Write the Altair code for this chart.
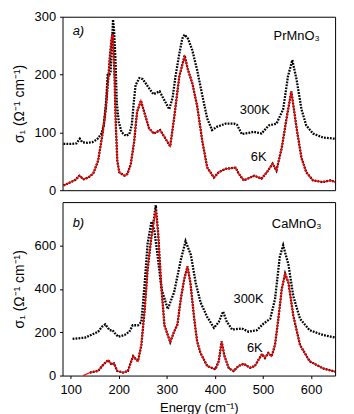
import altair as alt
import pandas as pd

# ---------- PrMnO3 (panel a) ----------
pr300_E = [85, 100, 112, 119, 124, 135, 145, 155, 164, 169, 174, 177, 180, 183, 186, 188, 190, 193, 196, 200, 206, 215, 222, 227, 231, 235, 243, 250, 260, 272, 285, 292, 305, 312, 318, 326, 332, 337, 344, 353, 363, 374, 384, 394, 405, 422, 440, 446, 456, 470, 480, 497, 512, 528, 542, 552, 561, 570, 580, 590, 604, 625, 650]
pr300_S = [80, 80, 81, 89, 83, 82, 83, 88, 98, 113, 157, 202, 198, 205, 250, 295, 280, 230, 150, 118, 100, 94, 97, 112, 150, 182, 194, 192, 180, 166, 171, 160, 140, 160, 197, 236, 262, 269, 262, 242, 208, 163, 124, 104, 110, 115, 115, 113, 97, 99, 101, 98, 112, 115, 140, 197, 225, 191, 140, 112, 98, 91, 89]

pr6_E = [85, 100, 110, 118, 127, 137, 147, 157, 166, 173, 178, 182, 185, 188, 191, 194, 197, 201, 212, 218, 225, 232, 238, 246, 253, 263, 273, 286, 292, 307, 315, 326, 337, 344, 353, 363, 374, 384, 398, 408, 422, 443, 450, 460, 482, 497, 508, 520, 528, 539, 549, 559, 570, 580, 590, 604, 624, 641, 650]
pr6_S = [8, 14, 18, 25, 19, 22, 29, 51, 96, 140, 191, 236, 262, 273, 200, 110, 51, 31, 25, 28, 45, 84, 135, 155, 135, 107, 98, 104, 96, 76, 124, 197, 233, 208, 185, 146, 84, 39, 22, 31, 37, 39, 28, 17, 25, 20, 31, 46, 34, 73, 124, 171, 107, 56, 31, 17, 14, 17, 14]

prfit_E = pr6_E
prfit_S = [8, 14, 18, 25, 19, 22, 29, 51, 96, 140, 191, 236, 262, 270, 200, 110, 51, 31, 25, 28, 45, 84, 135, 155, 135, 107, 98, 104, 96, 76, 124, 197, 231, 208, 185, 146, 84, 39, 22, 31, 37, 39, 28, 17, 25, 20, 31, 46, 34, 73, 124, 171, 107, 56, 31, 17, 14, 17, 14]

# ---------- CaMnO3 (panel b) ----------
ca300_E = [104, 130, 157, 165, 172, 181, 187, 192, 199, 212, 222, 229, 240, 247, 254, 260, 268, 274, 281, 289, 302, 315, 329, 339, 350, 360, 370, 384, 398, 408, 417, 425, 436, 456, 470, 487, 501, 515, 525, 535, 542, 553, 563, 577, 597, 625, 650]
ca300_S = [169, 175, 202, 225, 236, 209, 209, 195, 179, 187, 202, 232, 232, 247, 428, 609, 711, 669, 548, 398, 307, 383, 533, 620, 556, 428, 338, 270, 220, 247, 295, 247, 212, 217, 202, 209, 239, 262, 352, 548, 601, 511, 367, 262, 209, 187, 175]

ca6_E = [140, 157, 168, 178, 185, 190, 197, 209, 219, 226, 230, 236, 240, 247, 254, 260, 267, 277, 282, 288, 295, 307, 315, 322, 329, 336, 343, 349, 357, 363, 370, 384, 401, 408, 414, 420, 429, 439, 449, 460, 473, 483, 498, 504, 511, 518, 525, 532, 539, 546, 553, 563, 577, 597, 625, 650]
ca6_S = [14, 21, 51, 71, 51, 56, 21, 14, 21, 66, 89, 74, 66, 141, 307, 488, 624, 786, 654, 428, 232, 154, 202, 235, 352, 443, 503, 428, 262, 157, 104, 44, 29, 66, 157, 89, 33, 21, 44, 54, 36, 44, 99, 81, 104, 89, 141, 262, 398, 470, 428, 277, 141, 66, 33, 18]

cafit_E = [126] + ca6_E
cafit_S = [0, 14, 21, 51, 71, 51, 56, 21, 14, 21, 66, 89, 74, 66, 141, 307, 488, 624, 762, 654, 428, 232, 154, 202, 235, 352, 443, 503, 428, 262, 157, 104, 44, 29, 66, 157, 89, 33, 21, 44, 54, 36, 44, 99, 81, 104, 89, 141, 262, 398, 470, 428, 277, 141, 66, 33, 18]

# ---------- labels ----------
pr_lbl_text = ["300K", "6K", "PrMnO₃"]
pr_lbl_E = [483, 491, 570]
pr_lbl_S = [138, 58, 266]
ca_lbl_text = ["300K", "6K", "CaMnO₃"]
ca_lbl_E = [470, 483, 570]
ca_lbl_S = [352, 128, 700]
panel_tag = ["a)", "b)"]
tag_E = [116, 116]
tag_S = [275, 705]

x_ticks = [100, 200, 300, 400, 500, 600]
pr_y_ticks = [0, 100, 200, 300]
ca_y_ticks = [0, 200, 400, 600]

FONT = "Liberation Sans"
W, H = 275, 175


def series(E, S, name):
    return pd.DataFrame({"E": E, "S": S, "series": name})


def panel(d300, d6, dfit, lbl, tag, ymax, yticks, bottom):
    if bottom:
        x_axis = alt.Axis(values=x_ticks, grid=False, tickSize=3, labelPadding=5,
                          labelFont=FONT, labelFontSize=13, labelColor="black",
                          title="Energy (cm⁻¹)", titleFont=FONT, titleFontSize=13,
                          titleFontWeight="normal", titleColor="black", titlePadding=5,
                          domain=False)
    else:
        x_axis = None
    x = alt.X("E:Q", scale=alt.Scale(domain=[83, 650], nice=False, zero=False), axis=x_axis)
    y = alt.Y("S:Q", scale=alt.Scale(domain=[0, ymax], nice=False),
              axis=alt.Axis(values=yticks, grid=False, tickSize=3, labelPadding=4,
                            labelFont=FONT, labelFontSize=13, labelColor="black",
                            title="σ₁ (Ω⁻¹ cm⁻¹)", titleFont=FONT, titleFontSize=14,
                            titleFontWeight="normal", titleColor="black",
                            titlePadding=8, domain=False))
    dash = dict(color="black", strokeWidth=2.3, strokeDash=[1.8, 1.2], strokeCap="butt")
    dots300 = alt.Chart(d300).mark_line(**dash).encode(x=x, y=y)
    dots6 = alt.Chart(d6).mark_line(**dash).encode(x=x, y=y)
    fit = alt.Chart(dfit).mark_line(color="#ff0000", strokeWidth=1.3).encode(x=x, y=y)
    txt = alt.Chart(lbl).mark_text(font=FONT, fontSize=13, color="black",
                                   align="center", baseline="middle").encode(
        x="E:Q", y="S:Q", text="t:N")
    tg = alt.Chart(tag).mark_text(font=FONT, fontSize=13, fontStyle="italic", color="black",
                                  align="center", baseline="middle").encode(
        x="E:Q", y="S:Q", text="t:N")
    return alt.layer(dots300, dots6, fit, txt, tg).properties(width=W, height=H)


top = panel(series(pr300_E, pr300_S, "300K"), series(pr6_E, pr6_S, "6K"),
            series(prfit_E, prfit_S, "fit"),
            pd.DataFrame({"E": pr_lbl_E, "S": pr_lbl_S, "t": pr_lbl_text}),
            pd.DataFrame({"E": [tag_E[0]], "S": [tag_S[0]], "t": [panel_tag[0]]}),
            300, pr_y_ticks, False)
bot = panel(series(ca300_E, ca300_S, "300K"), series(ca6_E, ca6_S, "6K"),
            series(cafit_E, cafit_S, "fit"),
            pd.DataFrame({"E": ca_lbl_E, "S": ca_lbl_S, "t": ca_lbl_text}),
            pd.DataFrame({"E": [tag_E[1]], "S": [tag_S[1]], "t": [panel_tag[1]]}),
            800, ca_y_ticks, True)

chart = alt.vconcat(top, bot, spacing=1).configure_view(
    stroke="black", strokeWidth=1).configure_axis(tickColor="black").properties(
    background="white", padding={"left": 3, "top": 0, "right": 5, "bottom": 0})

chart.save("out.html", embed_options={"renderer": "svg", "actions": False})
